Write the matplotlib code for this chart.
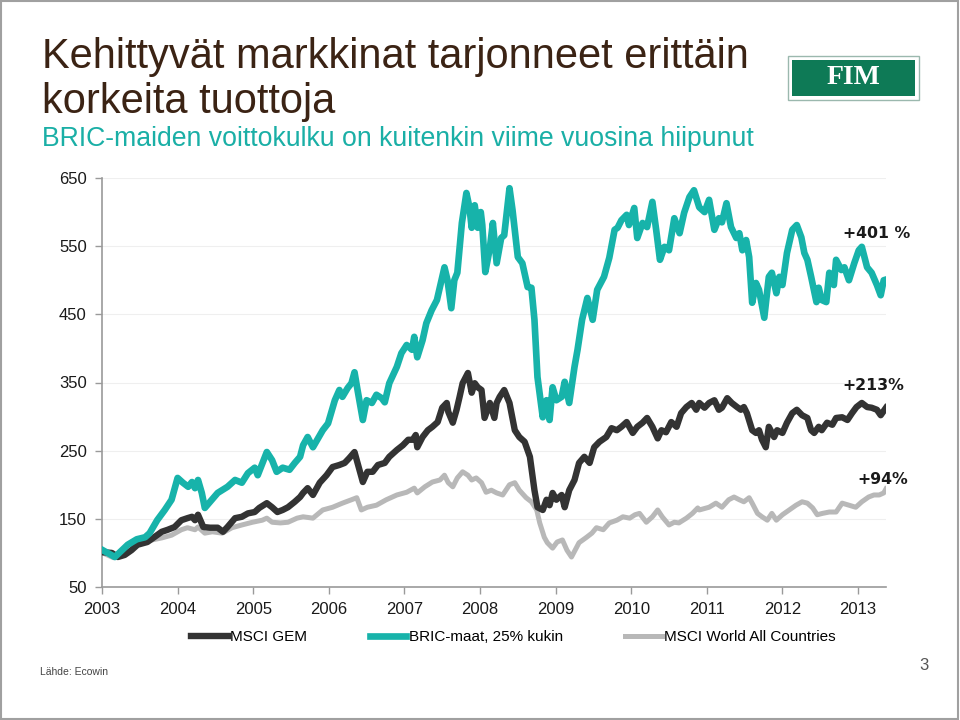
import matplotlib
matplotlib.use("Agg")
import matplotlib.pyplot as plt
from matplotlib.patches import Rectangle
import numpy as np

plt.rcParams['font.family'] = ['Liberation Sans', 'DejaVu Sans']

# ---------------- data ----------------
bric_t = [2003.01, 2003.17, 2003.34, 2003.46, 2003.57, 2003.63, 2003.73, 2003.83, 2003.92, 2004.00,
          2004.07, 2004.14, 2004.19, 2004.23, 2004.27, 2004.32, 2004.36, 2004.43, 2004.53, 2004.66,
          2004.76, 2004.85, 2004.93, 2005.02, 2005.06, 2005.18, 2005.25, 2005.31, 2005.39, 2005.48,
          2005.55, 2005.62, 2005.66, 2005.72, 2005.79, 2005.92, 2005.99, 2006.08, 2006.14, 2006.18,
          2006.25, 2006.30, 2006.34, 2006.38, 2006.45, 2006.50, 2006.57, 2006.63, 2006.70, 2006.74,
          2006.80, 2006.90, 2006.96, 2007.03, 2007.10, 2007.13, 2007.17, 2007.24, 2007.29, 2007.36,
          2007.43, 2007.47, 2007.53, 2007.57, 2007.62, 2007.66, 2007.70, 2007.76, 2007.82, 2007.86,
          2007.89, 2007.93, 2007.97, 2008.01, 2008.03, 2008.07, 2008.13, 2008.17, 2008.22, 2008.28,
          2008.32, 2008.39, 2008.43, 2008.50, 2008.56, 2008.63, 2008.68, 2008.72, 2008.76, 2008.83,
          2008.88, 2008.92, 2008.96, 2009.01, 2009.08, 2009.12, 2009.18, 2009.25, 2009.29, 2009.35,
          2009.42, 2009.49, 2009.55, 2009.64, 2009.71, 2009.78, 2009.82, 2009.87, 2009.94, 2009.97,
          2010.04, 2010.08, 2010.15, 2010.21, 2010.28, 2010.33, 2010.38, 2010.44, 2010.50, 2010.57,
          2010.64, 2010.70, 2010.77, 2010.83, 2010.90, 2010.97, 2011.03, 2011.10, 2011.16, 2011.20,
          2011.26, 2011.32, 2011.39, 2011.43, 2011.47, 2011.52, 2011.56, 2011.60, 2011.65, 2011.69,
          2011.76, 2011.82, 2011.86, 2011.92, 2011.96, 2012.00, 2012.06, 2012.13, 2012.19, 2012.25,
          2012.29, 2012.33, 2012.38, 2012.45, 2012.48, 2012.52, 2012.58, 2012.62, 2012.68, 2012.71,
          2012.78, 2012.82, 2012.88, 2012.95, 2013.01, 2013.05, 2013.12, 2013.18, 2013.25, 2013.30,
          2013.34, 2013.37]
bric_v = [104, 94, 112, 120, 123, 129, 148, 163, 178, 210,
          203, 197, 204, 195, 207, 188, 166, 175, 188, 197,
          207, 203, 217, 225, 214, 248, 236, 219, 225, 222,
          232, 241, 258, 270, 255, 280, 290, 324, 339, 329,
          342, 349, 365, 339, 295, 324, 320, 332, 327, 321,
          349, 373, 393, 405, 398, 417, 387, 412, 437, 456,
          471, 490, 519, 500, 459, 500, 511, 584, 628, 607,
          577, 610, 577, 600, 581, 512, 547, 584, 525, 562,
          566, 635, 603, 534, 525, 490, 489, 442, 358, 299,
          324, 295, 343, 324, 329, 351, 320, 373, 398, 442,
          474, 442, 486, 505, 533, 574, 577, 588, 596, 581,
          606, 562, 584, 578, 615, 574, 530, 549, 544, 591,
          569, 599, 622, 632, 607, 600, 618, 574, 591, 585,
          613, 578, 562, 569, 544, 559, 534, 467, 496, 486,
          445, 505, 511, 481, 505, 493, 540, 574, 581, 563,
          540, 530, 505, 468, 489, 471, 468, 511, 493, 530,
          515, 519, 500, 525, 544, 549, 519, 511, 493, 478,
          500, 501]

gem_t = [2003.01, 2003.13, 2003.21, 2003.30, 2003.39, 2003.47, 2003.60, 2003.69, 2003.79, 2003.87,
         2003.96, 2004.05, 2004.13, 2004.19, 2004.23, 2004.27, 2004.34, 2004.43, 2004.53, 2004.60,
         2004.66, 2004.76, 2004.85, 2004.93, 2005.02, 2005.08, 2005.18, 2005.25, 2005.32, 2005.39,
         2005.46, 2005.55, 2005.62, 2005.66, 2005.72, 2005.79, 2005.88, 2005.97, 2006.05, 2006.14,
         2006.21, 2006.27, 2006.34, 2006.38, 2006.45, 2006.51, 2006.58, 2006.65, 2006.74, 2006.80,
         2006.90, 2006.98, 2007.05, 2007.11, 2007.15, 2007.17, 2007.24, 2007.31, 2007.37, 2007.44,
         2007.50, 2007.56, 2007.58, 2007.64, 2007.69, 2007.73, 2007.77, 2007.84, 2007.89, 2007.93,
         2007.97, 2008.02, 2008.06, 2008.13, 2008.19, 2008.22, 2008.26, 2008.32, 2008.39, 2008.46,
         2008.52, 2008.59, 2008.66, 2008.72, 2008.76, 2008.83, 2008.88, 2008.92, 2008.96, 2009.01,
         2009.08, 2009.12, 2009.18, 2009.25, 2009.31, 2009.38, 2009.45, 2009.51, 2009.58, 2009.67,
         2009.74, 2009.81, 2009.87, 2009.94, 2010.02, 2010.08, 2010.15, 2010.21, 2010.28, 2010.35,
         2010.40, 2010.46, 2010.53, 2010.60, 2010.66, 2010.73, 2010.80, 2010.86, 2010.90, 2010.97,
         2011.03, 2011.10, 2011.16, 2011.20, 2011.27, 2011.33, 2011.40, 2011.45, 2011.49, 2011.53,
         2011.60, 2011.65, 2011.69, 2011.73, 2011.78, 2011.82, 2011.89, 2011.93, 2012.00, 2012.06,
         2012.13, 2012.19, 2012.26, 2012.33, 2012.38, 2012.42, 2012.48, 2012.52, 2012.59, 2012.66,
         2012.71, 2012.79, 2012.86, 2012.92, 2012.98, 2013.05, 2013.12, 2013.18, 2013.25, 2013.30,
         2013.37]
gem_v = [101, 100, 94, 97, 104, 112, 116, 123, 131, 134,
         138, 148, 151, 153, 148, 156, 138, 137, 137, 131,
         138, 151, 153, 158, 160, 166, 173, 167, 160, 163,
         167, 175, 182, 188, 195, 185, 203, 214, 226, 229,
         232, 239, 248, 232, 204, 219, 219, 229, 232, 241,
         251, 258, 266, 266, 273, 255, 270, 280, 285, 292,
         313, 320, 307, 291, 310, 329, 349, 364, 335, 349,
         343, 339, 298, 320, 298, 320, 329, 339, 320, 280,
         270, 263, 241, 192, 167, 163, 178, 170, 188, 178,
         185, 167, 192, 207, 232, 241, 232, 255, 263, 270,
         283, 280, 285, 292, 276, 285, 291, 298, 285, 268,
         280, 277, 292, 285, 305, 314, 320, 310, 320, 313,
         320, 324, 310, 313, 327, 320, 314, 310, 314, 305,
         280, 276, 280, 266, 255, 285, 270, 280, 276, 291,
         305, 310, 302, 298, 280, 276, 285, 280, 291, 288,
         298, 299, 295, 305, 314, 320, 314, 313, 310, 302,
         313]

world_t = [2003.01, 2003.15, 2003.26, 2003.39, 2003.53, 2003.66, 2003.79, 2003.92, 2004.05, 2004.13,
           2004.23, 2004.27, 2004.36, 2004.46, 2004.59, 2004.72, 2004.85, 2004.99, 2005.12, 2005.18,
           2005.25, 2005.36, 2005.46, 2005.58, 2005.66, 2005.79, 2005.92, 2006.05, 2006.18, 2006.30,
           2006.37, 2006.43, 2006.51, 2006.63, 2006.76, 2006.90, 2007.03, 2007.13, 2007.17, 2007.27,
           2007.37, 2007.47, 2007.53, 2007.58, 2007.64, 2007.70, 2007.77, 2007.84, 2007.89, 2007.95,
           2008.02, 2008.08, 2008.15, 2008.22, 2008.30, 2008.39, 2008.46, 2008.52, 2008.61, 2008.68,
           2008.75, 2008.79, 2008.85, 2008.89, 2008.96, 2009.02, 2009.09, 2009.15, 2009.21, 2009.31,
           2009.41, 2009.48, 2009.54, 2009.63, 2009.71, 2009.81, 2009.89, 2009.98, 2010.05, 2010.11,
           2010.20, 2010.28, 2010.35, 2010.41, 2010.50, 2010.57, 2010.63, 2010.73, 2010.81, 2010.88,
           2010.90, 2011.03, 2011.12, 2011.20, 2011.29, 2011.36, 2011.43, 2011.49, 2011.56, 2011.60,
           2011.67, 2011.73, 2011.80, 2011.86, 2011.92, 2012.00, 2012.09, 2012.18, 2012.26, 2012.33,
           2012.40, 2012.46, 2012.53, 2012.62, 2012.71, 2012.79, 2012.88, 2012.97, 2013.05, 2013.14,
           2013.21, 2013.28, 2013.34, 2013.37]
world_v = [100, 93, 100, 107, 115, 119, 122, 126, 134, 137,
           134, 138, 129, 131, 129, 137, 141, 145, 148, 151,
           145, 144, 145, 151, 153, 151, 163, 167, 173, 178,
           181, 163, 167, 170, 178, 185, 189, 195, 188, 197,
           204, 207, 214, 203, 197, 210, 219, 214, 207, 210,
           203, 189, 192, 188, 185, 200, 203, 192, 181, 175,
           163, 144, 123, 115, 107, 116, 119, 104, 94, 115,
           123, 129, 137, 134, 144, 148, 153, 151, 156, 158,
           145, 153, 163, 153, 141, 145, 144, 151, 158, 166,
           163, 167, 173, 167, 178, 182, 178, 175, 181, 173,
           158, 153, 148, 158, 148, 156, 163, 170, 175, 173,
           166, 156, 158, 160, 160, 173, 170, 167, 175, 182,
           185, 185, 188, 194]

year_ticks = list(range(2003, 2014))
y_ticks = [50, 150, 250, 350, 450, 550, 650]
series_names = ["MSCI GEM", "BRIC-maat, 25% kukin", "MSCI World All Countries"]
end_labels = ["+213%", "+401 %", "+94%"]

title_lines = ["Kehittyvät markkinat tarjonneet erittäin", "korkeita tuottoja"]
subtitle = "BRIC-maiden voittokulku on kuitenkin viime vuosina hiipunut"

# ---------------- styles ----------------
c_gem = "#333333"
c_bric = "#17B3AA"
c_world = "#B8B8B8"

fig = plt.figure(figsize=(9.6, 7.2), dpi=100)
fig.patch.set_facecolor("white")

ax = fig.add_axes([102/960, 1-587/720, (886-102)/960, (587-178)/720])
ax.plot(world_t, world_v, color=c_world, lw=3.6, solid_joinstyle='round', zorder=2, label=series_names[2])
ax.plot(gem_t, gem_v, color=c_gem, lw=4.6, solid_joinstyle='round', zorder=3, label=series_names[0])
ax.plot(bric_t, bric_v, color=c_bric, lw=4.8, solid_joinstyle='round', zorder=4, label=series_names[1])

ax.set_xlim(2003, 2013.37)
ax.set_ylim(50, 650)
ax.set_yticks(y_ticks)
ax.set_xticks(year_ticks)
ax.set_xticklabels([str(y) for y in year_ticks])
ax.grid(axis='y', color="#EFEFEF", lw=0.8, zorder=0)
for s in ["top", "right"]:
    ax.spines[s].set_visible(False)
for s in ["left", "bottom"]:
    ax.spines[s].set_color("#9A9A9A")
    ax.spines[s].set_linewidth(1.2)
ax.tick_params(axis='both', colors="#9A9A9A", length=5, width=1, labelcolor="#1a1a1a", labelsize=12)
ax.tick_params(axis='y', pad=6)
ax.tick_params(axis='x', pad=6)

# end labels
lab_kw = dict(fontsize=11.3, fontweight='bold', family='DejaVu Sans', ha='center', va='center',
              color="#1a1a1a", clip_on=False)
ax.text(2013.25, 568, end_labels[1], **lab_kw)
ax.text(2013.20, 345, end_labels[0], **lab_kw)
ax.text(2013.33, 208, end_labels[2], **lab_kw)

# legend
h, l = ax.get_legend_handles_labels()
order = [1, 2, 0]
leg = fig.legend([h[i] for i in order], [l[i] for i in order], loc='center', ncol=3,
                 bbox_to_anchor=(0.535, 1-637/720), frameon=False, fontsize=11,
                 handlelength=2.4, handletextpad=0.15, columnspacing=4.1)

# titles
fig.text(42/960, 1-68/720, title_lines[0], fontsize=30, color="#3B2314", ha='left', va='baseline')
fig.text(42/960, 1-113/720, title_lines[1], fontsize=30, color="#3B2314", ha='left', va='baseline')
fig.text(42/960, 1-146/720, subtitle, fontsize=19.2, color="#1AAFA6", ha='left', va='baseline')

# logo
fig.patches.append(Rectangle((788/960, 1-100/720), 131/960, 44/720, transform=fig.transFigure,
                             facecolor="white", edgecolor="#9BB8AE", lw=1.0))
fig.patches.append(Rectangle((792/960, 1-96/720), 123/960, 36/720, transform=fig.transFigure,
                             facecolor="#0E7A56", edgecolor="none"))
fig.text(853/960, 1-78/720, "FIM", fontsize=20, color="white", fontweight='bold',
         family='Liberation Serif', ha='center', va='center')

# footer
fig.text(40/960, 1-672/720, "Lähde: Ecowin", fontsize=7.5, color="#444444", ha='left', va='center')
fig.text(924/960, 1-665/720, "3", fontsize=12, color="#555555", ha='center', va='center')

# outer frame
fig.patches.append(Rectangle((0.001, 0.001), 0.997, 0.997, transform=fig.transFigure,
                             facecolor="none", edgecolor="#A0A0A0", lw=1.5))

fig.savefig("out.png", dpi=100)
